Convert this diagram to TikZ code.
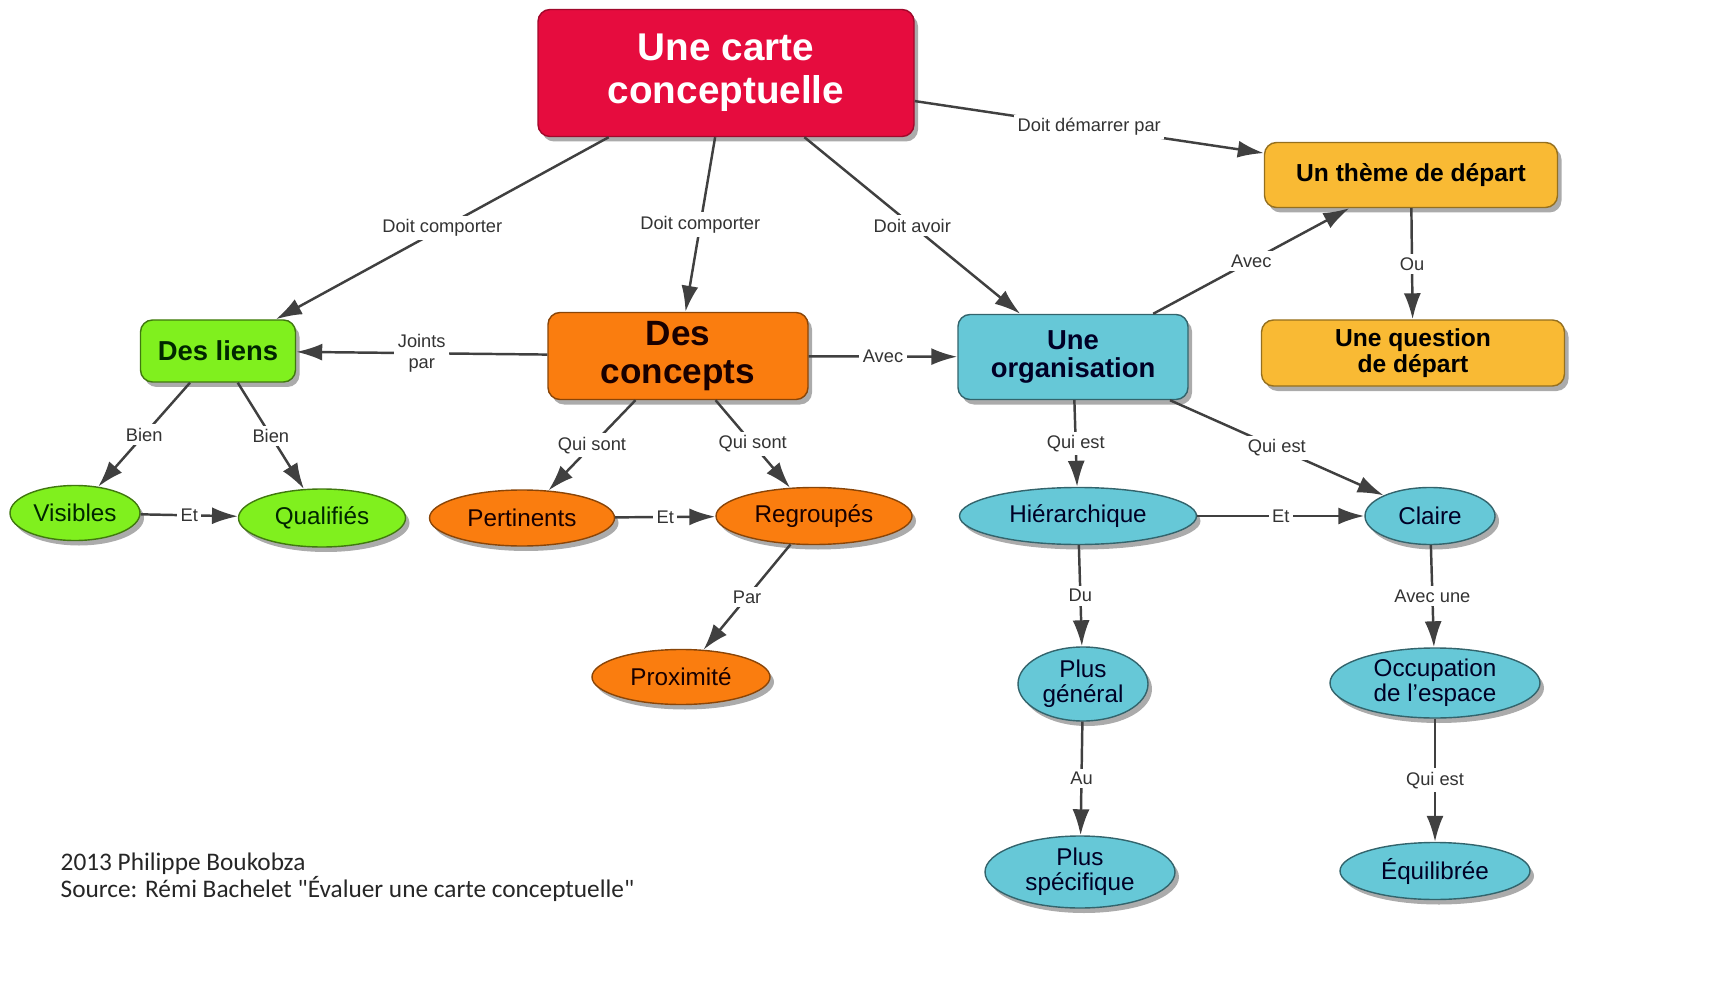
\documentclass[tikz,border=0pt]{standalone}
\usepackage{fontspec}
\setmainfont{Liberation Sans}
\newfontfamily\footfont{Carlito}
\usetikzlibrary{shapes.geometric,arrows.meta,shadows}

\definecolor{cartered}{RGB}{230,12,62}
\definecolor{themeyellow}{RGB}{249,186,52}
\definecolor{lienlime}{RGB}{128,240,30}
\definecolor{conceptorange}{RGB}{250,125,15}
\definecolor{orgcyan}{RGB}{102,200,215}
\definecolor{linkgray}{RGB}{64,64,64}

\begin{document}
\begin{tikzpicture}[
	box/.style={rectangle,rounded corners=0.12cm,draw,thin,align=center,inner sep=1pt,
		drop shadow={shadow xshift=0.04cm,shadow yshift=-0.05cm,fill=black!55,opacity=0.6}},
	blob/.style={ellipse,draw,thin,align=center,inner sep=0pt,
		drop shadow={shadow xshift=0.04cm,shadow yshift=-0.05cm,fill=black!55,opacity=0.6}},
	link/.style={draw=linkgray,line width=0.7pt,-{Latex[length=0.26cm,width=0.17cm]}},
	tag/.style={fill=white,inner sep=1pt,text=black!80,align=center,font=\fontsize{5.2}{5.8}\selectfont}
]
\useasboundingbox (0,0) rectangle (17.2,-9.99);

\begin{scope}[]
	%Top
	\node[box,fill=cartered,draw=cartered!70!black,text=white,minimum width=3.76cm,minimum height=1.27cm,
		font=\fontsize{11}{12.2}\selectfont\bfseries] (carte) at (7.26,-0.73) {Une carte\\conceptuelle};
	
	%Start
	\node[box,fill=themeyellow,draw=themeyellow!60!black,minimum width=2.93cm,minimum height=0.65cm,
		font=\fontsize{7}{7.2}\selectfont\bfseries] (theme) at (14.11,-1.75) {Un thème de départ};
	\node[box,fill=themeyellow,draw=themeyellow!60!black,minimum width=3.03cm,minimum height=0.66cm,
		font=\fontsize{7}{7.2}\selectfont\bfseries] (question) at (14.13,-3.53) {Une question\\de départ};
	
	%Middle row
	\node[box,fill=lienlime,draw=lienlime!50!black,text=black!85!green,minimum width=1.55cm,minimum height=0.62cm,
		font=\fontsize{7.8}{8.2}\selectfont\bfseries] (liens) at (2.18,-3.51) {Des liens};
	\node[box,fill=conceptorange,draw=conceptorange!55!black,text=black!90!red,minimum width=2.60cm,minimum height=0.87cm,
		font=\fontsize{10}{10.8}\selectfont\bfseries] (concepts) at (6.78,-3.56) {Des\\concepts};
	\node[box,fill=orgcyan,draw=orgcyan!50!black,text=black!85!blue,minimum width=2.30cm,minimum height=0.85cm,
		font=\fontsize{7.8}{8}\selectfont\bfseries] (organisation) at (10.73,-3.57) {Une\\organisation};
\end{scope}

\begin{scope}[every node/.style={blob,font=\fontsize{6.9}{7.2}\selectfont}]
	%Liens
	\node[fill=lienlime,draw=lienlime!50!black,text=black!85!green,minimum width=1.30cm,minimum height=0.55cm] (visibles) at (0.75,-5.13) {Visibles};
	\node[fill=lienlime,draw=lienlime!50!black,text=black!85!green,minimum width=1.67cm,minimum height=0.58cm] (qualifies) at (3.22,-5.18) {Qualifiés};
	
	%Concepts
	\node[fill=conceptorange,draw=conceptorange!55!black,text=black!90!red,minimum width=1.85cm,minimum height=0.56cm] (pertinents) at (5.22,-5.18) {Pertinents};
	\node[fill=conceptorange,draw=conceptorange!55!black,text=black!90!red,minimum width=1.96cm,minimum height=0.57cm] (regroupes) at (8.14,-5.16) {Regroupés};
	\node[fill=conceptorange,draw=conceptorange!55!black,text=black!90!red,minimum width=1.78cm,minimum height=0.55cm] (proximite) at (6.81,-6.77) {Proximité};
	
	%Organisation
	\node[fill=orgcyan,draw=orgcyan!50!black,text=black!85!blue,minimum width=2.37cm,minimum height=0.57cm] (hierarchique) at (10.78,-5.16) {Hiérarchique};
	\node[fill=orgcyan,draw=orgcyan!50!black,text=black!85!blue,minimum width=1.30cm,minimum height=0.57cm] (claire) at (14.30,-5.16) {Claire};
	\node[fill=orgcyan,draw=orgcyan!50!black,text=black!85!blue,minimum width=1.30cm,minimum height=0.74cm] (general) at (10.83,-6.84) {Plus\\général};
	\node[fill=orgcyan,draw=orgcyan!50!black,text=black!85!blue,minimum width=2.10cm,minimum height=0.70cm] (occupation) at (14.35,-6.83) {Occupation\\de l'espace};
	\node[fill=orgcyan,draw=orgcyan!50!black,text=black!85!blue,minimum width=1.90cm,minimum height=0.72cm] (specifique) at (10.80,-8.72) {Plus\\spécifique};
	\node[fill=orgcyan,draw=orgcyan!50!black,text=black!85!blue,minimum width=1.90cm,minimum height=0.57cm] (equilibree) at (14.35,-8.71) {Équilibrée};
\end{scope}

\begin{scope}[link]
	%Top
	\path (carte) edge node[tag] {Doit comporter} (liens);
	\path (carte) edge node[tag] {Doit comporter} (concepts);
	\path (carte) edge node[tag] {Doit avoir} (organisation);
	\path (carte) edge node[tag] {Doit démarrer par} (theme);
	
	%Start
	\path (organisation) edge node[tag] {Avec} (theme);
	\path (theme) edge node[tag] {Ou} (question);
	
	%Middle row
	\path (concepts) edge node[tag] {Joints\\par} (liens);
	\path (concepts) edge node[tag] {Avec} (organisation);
	
	%Liens
	\path (liens) edge node[tag] {Bien} (visibles);
	\path (liens) edge node[tag] {Bien} (qualifies);
	\path (visibles) edge node[tag] {Et} (qualifies);
	
	%Concepts
	\path (concepts) edge node[tag] {Qui sont} (pertinents);
	\path (concepts) edge node[tag] {Qui sont} (regroupes);
	\path (pertinents) edge node[tag] {Et} (regroupes);
	\path (regroupes) edge node[tag] {Par} (proximite);
	
	%Organisation
	\path (organisation) edge node[tag] {Qui est} (hierarchique);
	\path (organisation) edge node[tag] {Qui est} (claire);
	\path (hierarchique) edge node[tag] {Et} (claire);
	\path (hierarchique) edge node[tag] {Du} (general);
	\path (general) edge node[tag] {Au} (specifique);
	\path (claire) edge node[tag] {Avec une} (occupation);
	\path (occupation) edge node[tag] {Qui est} (equilibree);
\end{scope}

%Credits
\node[anchor=north west,align=left,inner sep=0pt,text=black!85,font=\footfont\fontsize{7.2}{7.7}\selectfont] (credits) at (0.60,-8.52)
	{2013 Philippe Boukobza\\Source: Rémi Bachelet "Évaluer une carte conceptuelle"};

\end{tikzpicture}
\end{document}
